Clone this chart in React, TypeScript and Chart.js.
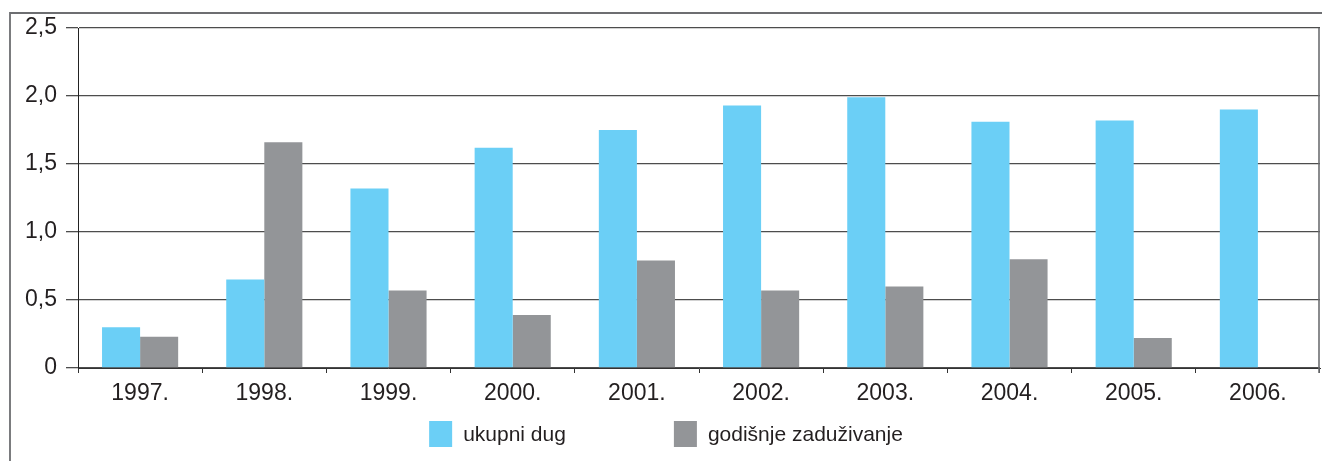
import React, { useEffect, useRef } from 'react';
import { Chart, registerables } from 'chart.js';

Chart.register(...registerables);

const categories = ['1997.', '1998.', '1999.', '2000.', '2001.', '2002.', '2003.', '2004.', '2005.', '2006.'];
const ukupniDug = [0.30, 0.65, 1.32, 1.62, 1.75, 1.93, 1.99, 1.81, 1.82, 1.90];
const godisnjeZaduzivanje = [0.23, 1.66, 0.57, 0.39, 0.79, 0.57, 0.60, 0.80, 0.22, null];
const yTickLabels = ['0', '0,5', '1,0', '1,5', '2,0', '2,5'];
const seriesNames = ['ukupni dug', 'godišnje zaduživanje'];
const seriesColors = ['#6bcff6', '#939598'];

const FONT = "'Liberation Sans', Arial, Helvetica, sans-serif";
const TEXT = '#231f20';

const framePlugin = {
  id: 'framePlugin',
  afterDraw(chart: any) {
    const { ctx, chartArea } = chart;
    ctx.save();
    ctx.strokeStyle = '#6d6e71';
    ctx.lineWidth = 1.8;
    ctx.beginPath();
    ctx.moveTo(10, chart.height);
    ctx.lineTo(10, 13);
    ctx.lineTo(chart.width, 13);
    ctx.stroke();
    ctx.beginPath();
    ctx.lineWidth = 1.6;
    ctx.moveTo(chartArea.right - 1, chartArea.top);
    ctx.lineTo(chartArea.right - 1, chartArea.bottom + 5);
    ctx.stroke();
    ctx.restore();
  },
};

const legendPlugin = {
  id: 'customLegend',
  afterDraw(chart: any) {
    const { ctx } = chart;
    const ds = chart.data.datasets;
    ctx.save();
    ctx.font = `21px ${FONT}`;
    const boxW = 23;
    const boxH = 26;
    const gapText = 11;
    const gapItem = 108;
    const widths = ds.map((d: any) => boxW + gapText + ctx.measureText(d.label).width);
    const total = widths.reduce((a: number, b: number) => a + b, 0) + gapItem * (ds.length - 1);
    let x = 666 - total / 2;
    const top = 421;
    ctx.textBaseline = 'middle';
    ctx.textAlign = 'left';
    ds.forEach((d: any, i: number) => {
      ctx.fillStyle = d.backgroundColor;
      ctx.fillRect(x, top, boxW, boxH);
      ctx.fillStyle = TEXT;
      ctx.fillText(d.label, x + boxW + gapText, top + boxH / 2 + 1);
      x += widths[i] + gapItem;
    });
    ctx.restore();
  },
};

export default function App() {
  const ref = useRef<HTMLCanvasElement | null>(null);
  useEffect(() => {
    if (!ref.current) return;
    const chart = new Chart(ref.current, {
      type: 'bar',
      data: {
        labels: categories,
        datasets: [
          { label: seriesNames[0], data: ukupniDug, backgroundColor: seriesColors[0], borderWidth: 0 },
          { label: seriesNames[1], data: godisnjeZaduzivanje as any, backgroundColor: seriesColors[1], borderWidth: 0 },
        ],
      },
      options: {
        animation: false,
        responsive: false,
        datasets: { bar: { categoryPercentage: 0.613, barPercentage: 1 } },
        layout: { padding: { left: 10, top: 28, right: 2, bottom: 0 } },
        plugins: { legend: { display: false }, tooltip: { enabled: false } },
        scales: {
          x: {
            afterFit: (s: any) => { s.height = 93; },
            grid: { display: true, drawOnChartArea: false, drawTicks: true, tickLength: 5, color: '#333', offset: true },
            border: { display: true, color: '#333', width: 1 },
            ticks: { color: TEXT, font: { family: FONT, size: 23 }, padding: 7, maxRotation: 0 },
          },
          y: {
            min: 0,
            max: 2.5,
            afterFit: (s: any) => { s.width = 68; },
            grid: { color: '#4d4d4d', lineWidth: 1.3, tickLength: 12, drawTicks: true },
            border: { display: true, color: '#222', width: 1 },
            ticks: {
              stepSize: 0.5,
              padding: 9,
              color: TEXT,
              font: { family: FONT, size: 23 },
              callback: (v: any) => yTickLabels[Math.round(Number(v) / 0.5)],
            },
          },
        },
      },
      plugins: [framePlugin, legendPlugin],
    });
    return () => chart.destroy();
  }, []);
  return (
    <div style={{ position: 'absolute', left: 0, top: 0, width: 1322, height: 461, background: '#fff' }}>
      <canvas ref={ref} width={1322} height={461} style={{ display: 'block' }} />
    </div>
  );
}
